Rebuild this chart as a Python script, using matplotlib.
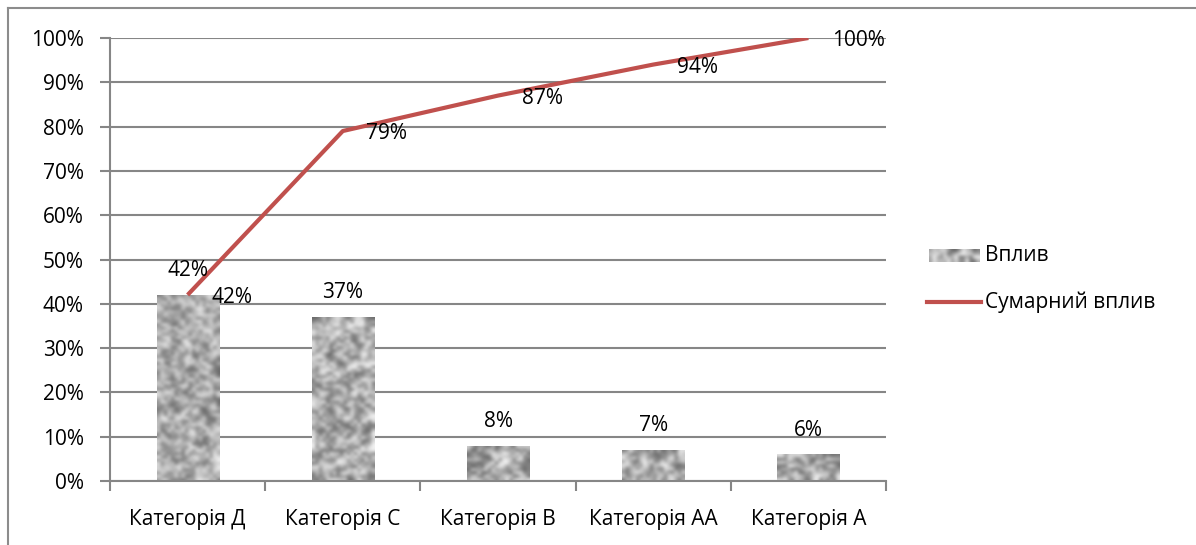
import numpy as np
import matplotlib
matplotlib.use("Agg")
import matplotlib.pyplot as plt
from matplotlib.lines import Line2D

plt.rcParams['font.family'] = ['Open Sans', 'DejaVu Sans']

categories = ["Категорія Д", "Категорія С", "Категорія В", "Категорія АА", "Категорія А"]
impact = [42, 37, 8, 7, 6]
cumulative = [42, 79, 87, 94, 100]
yticks = [0, 10, 20, 30, 40, 50, 60, 70, 80, 90, 100]
legend_labels = ["Вплив", "Сумарний вплив"]

W, H = 1196, 545
fig = plt.figure(figsize=(W / 100, H / 100), dpi=100)
ax = fig.add_axes([110 / W, 1 - 481 / H, (886 - 110) / W, (481 - 38) / H])

grid_c = '#868686'
line_c = '#c0504d'
fs = 15

# texture (styling only)
rng = np.random.default_rng(3)
def texture(h, w):
    n = rng.random((h, w))
    p = np.pad(n, 1, mode='wrap')
    s = sum(p[i:i + h, j:j + w] for i in range(3) for j in range(3)) / 9.0
    s = 0.5 * s + 0.5 * n
    s = (s - s.min()) / (s.max() - s.min())
    return 0.40 + 0.55 * s

x = np.arange(len(categories))
bw = 0.4
bars = ax.bar(x, impact, width=bw, color='none', edgecolor='none', zorder=2)
for b in bars:
    x0, y0 = b.get_x(), b.get_y()
    w, h = b.get_width(), b.get_height()
    img = ax.imshow(texture(max(int(h * 1.4), 3), 18), cmap='gray', vmin=0, vmax=1,
                    extent=[x0, x0 + w, y0, y0 + h], aspect='auto', zorder=2,
                    interpolation='bicubic')
    img.set_clip_path(b)

ax.plot(x, cumulative, color=line_c, lw=3, zorder=3, solid_capstyle='butt')

for xi, v in zip(x, impact):
    ax.annotate(f"{v}%", (xi, v), xytext=(0, 13.5), textcoords='offset points',
                ha='center', va='baseline', fontsize=fs, zorder=4)
for xi, v in zip(x, cumulative):
    ax.annotate(f"{v}%", (xi, v), xytext=(17, -2), textcoords='offset points',
                ha='left', va='center', fontsize=fs, zorder=4)

ax.set_xlim(-0.5, len(categories) - 0.5)
ax.set_ylim(0, 100)
ax.set_yticks(yticks)
ax.set_yticklabels([f"{t}%" for t in yticks], fontsize=fs)
ax.set_xticks(x)
ax.set_xticklabels(categories, fontsize=fs)
ax.tick_params(axis='x', length=0, pad=20)
ax.set_xticks(np.arange(len(categories) + 1) - 0.5, minor=True)
ax.tick_params(axis='x', which='minor', length=7, color=grid_c, width=1.5, direction='out')
ax.tick_params(axis='y', length=7, color=grid_c, width=1.5, pad=12)
ax.yaxis.grid(True, color=grid_c, lw=1.5, zorder=1)
ax.set_axisbelow(True)
for s in ['top', 'right']:
    ax.spines[s].set_visible(False)
for s in ['left', 'bottom']:
    ax.spines[s].set_color(grid_c)
    ax.spines[s].set_linewidth(1.5)

# manual legend
lax = fig.add_axes([929 / W, 1 - 262 / H, (980 - 929) / W, (262 - 249) / H])
lax.imshow(texture(4, 14), cmap='gray', vmin=0, vmax=1, aspect='auto', interpolation='bicubic')
lax.axis('off')
fig.text(985 / W, 1 - 255 / H, legend_labels[0], ha='left', va='center', fontsize=fs)
fig.add_artist(Line2D([927 / W, 981 / W], [1 - 302 / H, 1 - 302 / H], color=line_c, lw=3,
                      transform=fig.transFigure))
fig.text(985 / W, 1 - 302 / H, legend_labels[1], ha='left', va='center', fontsize=fs)

# outer frame (partial)
fig.add_artist(Line2D([8 / W, 1], [1 - 8 / H, 1 - 8 / H], color='#8c8c8c', lw=1.5, transform=fig.transFigure))
fig.add_artist(Line2D([8 / W, 8 / W], [0, 1 - 8 / H], color='#8c8c8c', lw=1.5, transform=fig.transFigure))

fig.savefig("out.png", dpi=100)
